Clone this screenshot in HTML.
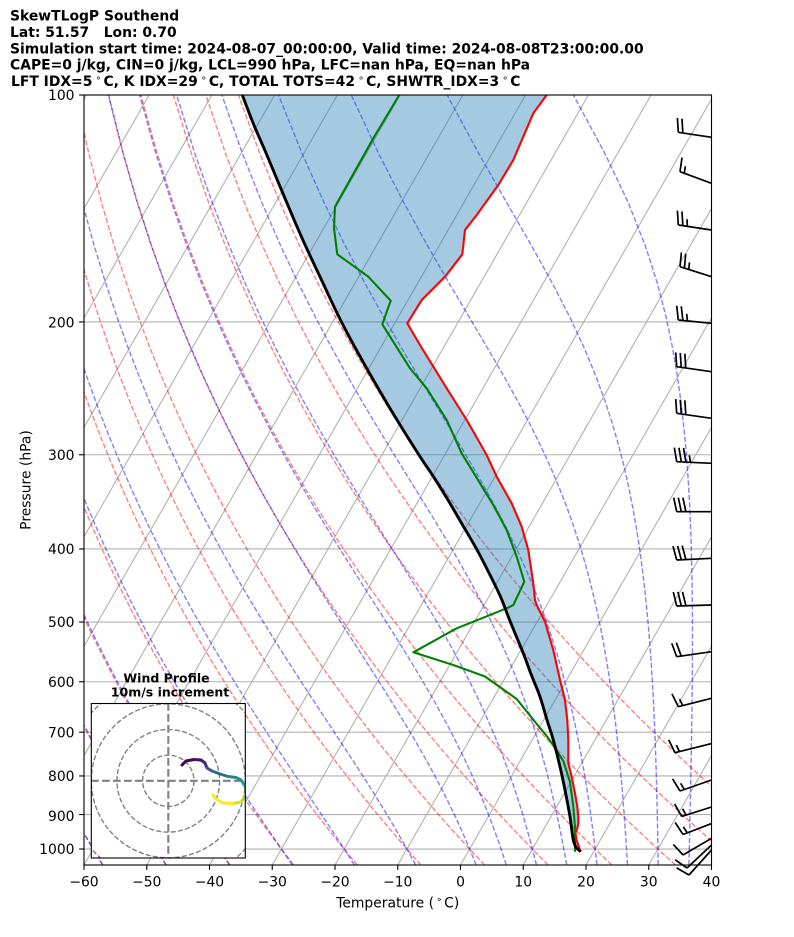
<!DOCTYPE html>
<html><head><meta charset="utf-8">
<style>
html,body{margin:0;padding:0;background:#fff;}
svg{display:block;font-family:"DejaVu Sans","Liberation Sans",sans-serif;}
</style></head><body>
<svg id="s" xmlns="http://www.w3.org/2000/svg" width="794" height="937" viewBox="0 0 794 937">
<defs>
<clipPath id="ca"><rect x="84" y="95" width="627.5" height="770"/></clipPath>
<clipPath id="ci"><rect x="91.3" y="703.5" width="154" height="154.5"/></clipPath>
</defs>
<rect width="794" height="937" fill="#fff"/>
<g id="bg" clip-path="url(#ca)"></g>
<g id="fg" clip-path="url(#ca)"></g>
<g id="barbs" fill="none" stroke="#000" stroke-width="1.7" stroke-linejoin="miter"></g>

<rect x="84" y="95" width="627.5" height="770" fill="none" stroke="#000" stroke-width="1.1"/>
<g id="ticks" stroke="#000" stroke-width="1.1"></g>

<g font-size="13.9" fill="#000">
<text x="84" y="886.5" text-anchor="middle">−60</text>
<text x="146.75" y="886.5" text-anchor="middle">−50</text>
<text x="209.5" y="886.5" text-anchor="middle">−40</text>
<text x="272.25" y="886.5" text-anchor="middle">−30</text>
<text x="335" y="886.5" text-anchor="middle">−20</text>
<text x="397.75" y="886.5" text-anchor="middle">−10</text>
<text x="460.5" y="886.5" text-anchor="middle">0</text>
<text x="523.25" y="886.5" text-anchor="middle">10</text>
<text x="586" y="886.5" text-anchor="middle">20</text>
<text x="648.75" y="886.5" text-anchor="middle">30</text>
<text x="711.5" y="886.5" text-anchor="middle">40</text>
</g>
<g font-size="13.9" fill="#000" text-anchor="end">
<text x="74.5" y="100">100</text>
<text x="74.5" y="327.3">200</text>
<text x="74.5" y="459.8">300</text>
<text x="74.5" y="554">400</text>
<text x="74.5" y="627">500</text>
<text x="74.5" y="686.8">600</text>
<text x="74.5" y="737.3">700</text>
<text x="74.5" y="781">800</text>
<text x="74.5" y="820.8">900</text>
<text x="74.5" y="854">1000</text>
</g>
<text x="397.75" y="907.5" text-anchor="middle" font-size="13.9">Temperature (<tspan dx="2" dy="-5" font-size="9.7">∘</tspan><tspan dx="2" dy="5">C)</tspan></text>
<text transform="translate(30.5,480) rotate(-90)" text-anchor="middle" font-size="13.9">Pressure (hPa)</text>

<g font-weight="bold" font-size="13.9">
<text x="10" y="20.7">SkewTLogP Southend</text>
<text x="10" y="37">Lat: 51.57&#160;&#160;&#160;Lon: 0.70</text>
<text x="10" y="53.3">Simulation start time: 2024-08-07_00:00:00, Valid time: 2024-08-08T23:00:00.00</text>
<text x="10" y="69.6">CAPE=0 j/kg, CIN=0 j/kg, LCL=990 hPa, LFC=nan hPa, EQ=nan hPa</text>
<text x="11" y="86">LFT IDX=5<tspan dx="3" dy="-5" font-size="9.7" font-weight="normal">∘</tspan><tspan dx="2" dy="5">C, K IDX=29</tspan><tspan dx="3" dy="-5" font-size="9.7" font-weight="normal">∘</tspan><tspan dx="2" dy="5">C, TOTAL TOTS=42</tspan><tspan dx="3" dy="-5" font-size="9.7" font-weight="normal">∘</tspan><tspan dx="2" dy="5">C, SHWTR_IDX=3</tspan><tspan dx="3" dy="-5" font-size="9.7" font-weight="normal">∘</tspan><tspan dx="2" dy="5">C</tspan></text>
</g>

<!-- inset hodograph -->
<rect x="91.3" y="703.5" width="154" height="154.5" fill="#fff" stroke="none"/>
<g id="hodo" clip-path="url(#ci)"></g>
<rect x="91.3" y="703.5" width="154" height="154.5" fill="none" stroke="#000" stroke-width="1.1"/>
<g font-weight="bold" font-size="12.5" text-anchor="middle">
<text x="166.5" y="682.5">Wind Profile</text>
<text x="170" y="696.5">10m/s increment</text>
</g>
</svg>
<script>
(function(){
const NS='http://www.w3.org/2000/svg';
const X0=84,SX=6.275,K=0.5735,YB=865,H=770,LN=Math.log(10.5);
function Y(p){return YB-H*Math.log(1050/p)/LN;}
function X(T,p){return X0+(T+60)*SX+(YB-Y(p))*K;}
function el(tag,a,par){const e=document.createElementNS(NS,tag);for(const k in a)e.setAttribute(k,a[k]);par.appendChild(e);return e;}
function pth(pts){return 'M'+pts.map(q=>q[0].toFixed(2)+','+q[1].toFixed(2)).join('L');}
function smooth(pts,n){const out=[];for(let i=0;i<pts.length-1;i++){const p0=pts[Math.max(0,i-1)],p1=pts[i],p2=pts[i+1],p3=pts[Math.min(pts.length-1,i+2)];for(let k=0;k<n;k++){const t=k/n,t2=t*t,t3=t2*t;const f=(a,b,c,d)=>0.5*((2*b)+(-a+c)*t+(2*a-5*b+4*c-d)*t2+(-a+3*b-3*c+d)*t3);out.push([f(p0[0],p1[0],p2[0],p3[0]),f(p0[1],p1[1],p2[1],p3[1])]);}}out.push(pts[pts.length-1]);return out;}
const bg=document.getElementById('bg'),fg=document.getElementById('fg');
// grid
for(let p=100;p<=1000;p+=100){const y=Y(p);el('line',{x1:84,x2:711.5,y1:y,y2:y,stroke:'#b0b0b0','stroke-width':1.1},bg);}
for(let T=-140;T<=40;T+=10){el('line',{x1:X(T,1050),y1:Y(1050),x2:X(T,100),y2:Y(100),stroke:'#b0b0b0','stroke-width':1.1},bg);}
const ps=[];for(let i=0;i<50;i++)ps.push(1050+(100-1050)*i/49);
// dry adiabats
for(let T0=-60;T0<=50;T0+=10){
 const pts=ps.map(p=>{const T=(T0+273.15)*Math.pow(p/1000,0.285714)-273.15;return [X(T,p),Y(p)];});
 el('path',{d:pth(pts),fill:'none',stroke:'rgba(255,0,0,0.5)','stroke-width':1.39,'stroke-dasharray':'5.1 2.2'},bg);
}
// moist
const Rd=287.04749,Cp=1004.6662,Lv=2.50084e6,eps=0.6219569;
function esat(T){const c=T-273.15;return 6.112*Math.exp(17.67*c/(c+243.5));}
function f(p,T){const e=esat(T);const r=eps*e/(p-e);return (Rd*T+Lv*r)/(Cp+Lv*Lv*r*eps/(Rd*T*T))/p;}
function step(p,T,h){const k1=f(p,T),k2=f(p+h/2,T+h/2*k1),k3=f(p+h/2,T+h/2*k2),k4=f(p+h,T+h*k3);return T+h/6*(k1+2*k2+2*k3+k4);}
function moistTo(T,p0,p1){const n=Math.max(1,Math.ceil(Math.abs(p1-p0)/2));const h=(p1-p0)/n;let p=p0;for(let i=0;i<n;i++){T=step(p,T,h);p+=h;}return T;}
const mt=[-60,-50,-40,-30,-20,-10,0,5,10,15,20,25,30,35,40];
mt.forEach(T0=>{
 const pts=ps.map(p=>{const T=moistTo(T0+273.15,1000,p)-273.15;return [X(T,p),Y(p)];});
 el('path',{d:pth(pts),fill:'none',stroke:'rgba(0,0,255,0.5)','stroke-width':1.39,'stroke-dasharray':'5.1 2.2'},bg);
});
// parcel (traced)
const parRaw=[[580.7,851.7],[576.7,848.3],[573.3,840],[570,816.7],[565,790],[560,766.7],[553.3,740],[547,720],[540,696.7],[531,674],[523.3,653.3],[510.4,622],[500.5,596.7],[488,571],[476,548],[462,524],[448,500],[433,476],[419,455],[394,415],[366.7,368.3],[342,323],[320,276.7],[302,238],[284,196],[266,153],[253.5,124],[242.3,95],[238,84]];
const parPx=[[580.7,851.7],[576.7,848.3]].concat(smooth(parRaw.slice(1),6).slice(1));
const red=[[580.7,851.7],[576.5,840],[575.5,833],[577.3,828.3],[578.3,823.3],[578.3,816.4],[577.3,806.7],[575,793.3],[571.7,776.7],[568.3,763.3],[568.3,740],[567.3,720],[565,700],[560,680],[553.3,650],[545,621.7],[536.7,605],[535,600],[533.3,583.3],[528.3,550],[521.7,526.7],[511.7,503.3],[496.7,476.7],[486.7,455],[466.7,420],[446.7,388.3],[420,345],[407.3,323.3],[421.7,300],[445,276.7],[462.3,254.3],[465,230],[476.7,215],[498.3,185],[513.3,160],[533.3,113.3],[546.7,95],[553,86]];
const green=[[575,851.7],[575,826.7],[573.3,806.7],[570,782],[563.3,761],[553,745],[546,735],[540,728],[516.7,699],[485,676.5],[453.3,665],[413.3,652.3],[456.7,628.3],[506.7,608.3],[513.3,605],[524.3,581.7],[516.7,556.7],[506.7,530],[493.3,505],[480,483.3],[461.7,453.3],[446.7,420],[426.7,388.3],[410,368.3],[382.3,324.3],[390.7,300.7],[368.3,276.7],[337.3,254.3],[334,228.3],[335,206.7],[373.3,138.3],[399.3,95],[404,87]];
const poly=red.concat(parPx.slice().reverse());
el('path',{d:pth(poly)+'Z',fill:'#1f77b4','fill-opacity':0.4,stroke:'none'},fg);
el('path',{d:pth(red),fill:'none',stroke:'#ff0000','stroke-width':2.1,'stroke-linejoin':'round'},fg);
el('path',{d:pth(green),fill:'none',stroke:'#008000','stroke-width':2.1,'stroke-linejoin':'round'},fg);
el('path',{d:pth(parPx),fill:'none',stroke:'#000','stroke-width':2.9,'stroke-linejoin':'round'},fg);
// ticks
const tk=document.getElementById('ticks');
for(let T=-60;T<=40;T+=10){const x=X0+(T+60)*SX;el('line',{x1:x,x2:x,y1:865,y2:869.9},tk);}
for(let p=100;p<=1000;p+=100){const y=Y(p);el('line',{x1:84,x2:79.1,y1:y,y2:y},tk);}
// barbs
const bgp=document.getElementById('barbs');
const B=[[137.3,678.3,132.3,'FF'],[183.3,680,171.7,'FH'],[230,678.3,225,'FFH'],[276.7,680,266.7,'FFH'],[323.3,678.3,320,'FFH'],[371.7,676.7,366.7,'FFF'],[418.3,676.7,413.3,'FFF'],[463.3,676.7,461.7,'FFFH'],[511.7,676.7,511.7,'FFF'],[558.3,676.7,560,'FFF'],[605,676.7,606,'FFF'],[651.7,676.7,656.7,'FF'],[698.3,678.3,706.7,'FH'],[743.6,675,752.7,'FH'],[780,680,791,'FH'],[807,681.7,816.4,'FH'],[823.6,683,834.5,'FH'],[838.3,683,855,'F'],[845,687,868,'F'],[850,689,875,'F']];
B.forEach(b=>{
 const bx=711.5,by=b[0],tx=b[1],ty=b[2];
 const dx=tx-bx,dy=ty-by,L=Math.hypot(dx,dy),ux=dx/L,uy=dy/L,px=-uy,py=ux;
 let d='M'+bx+','+by+'L'+tx+','+ty;
 const pat=b[3];const sp=4.6;
 for(let i=0;i<pat.length;i++){
  const off=(pat.length===1&&pat[0]==='H')?1:i;
  const sx=tx-ux*sp*off,sy=ty-uy*sp*off;
  const len=pat[i]==='F'?14:7, sl=pat[i]==='F'?3:1.5;
  d+='M'+sx.toFixed(2)+','+sy.toFixed(2)+'L'+(sx+px*len+ux*sl).toFixed(2)+','+(sy+py*len+uy*sl).toFixed(2);
 }
 el('path',{d:d},bgp);
});
// hodograph
const hg=document.getElementById('hodo');
const cx=168.3,cy=780.8,sc=77/30;
[10,20,30,40].forEach(r=>{el('circle',{cx:cx,cy:cy,r:r*sc,fill:'none',stroke:'#808080','stroke-width':1.39,'stroke-dasharray':'5.1 2.2'},hg);});
el('line',{x1:91,x2:246,y1:cy,y2:cy,stroke:'#808080','stroke-width':2.08,'stroke-dasharray':'7.7 3.3'},hg);
el('line',{x1:cx,x2:cx,y1:703,y2:859,stroke:'#808080','stroke-width':2.08,'stroke-dasharray':'7.7 3.3'},hg);
const hp=[[182,765],[186,761],[194,759.5],[201,760],[205,763],[207,768],[212,771],[220,774],[228,776.5],[236,777.5],[241,780],[245,786],[247,792],[245,797],[241,802],[233,803.5],[223,803],[216,799],[213,795]];
const hc=['#440154','#46085c','#471063','#481a6c','#482475','#3b528b','#31688e','#2c728e','#26828e','#21918c','#1f9e89','#35b779','#6ece58','#b5de2b','#d8e219','#fde725','#fde725','#fde725'];
for(let i=0;i<hp.length-1;i++){el('line',{x1:hp[i][0],y1:hp[i][1],x2:hp[i+1][0],y2:hp[i+1][1],stroke:hc[i],'stroke-width':3,'stroke-linecap':'round'},hg);}
})();
</script>
</body></html>
